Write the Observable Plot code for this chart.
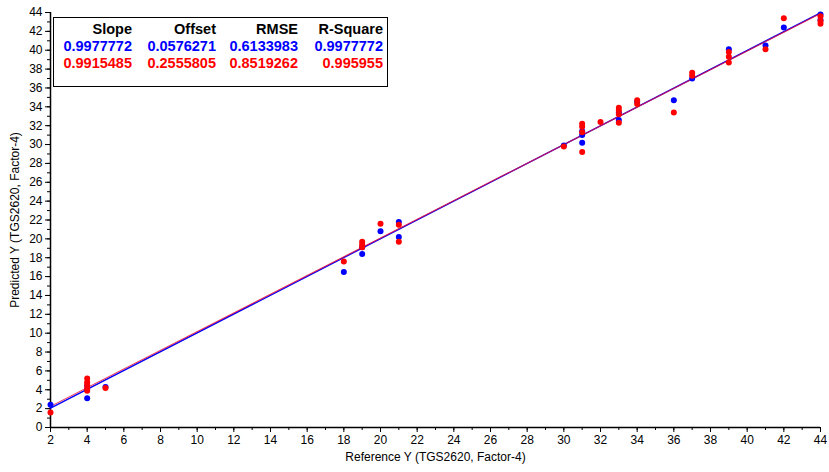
<!DOCTYPE html>
<html><head><meta charset="utf-8">
<script src="https://cdn.jsdelivr.net/npm/d3@7"></script>
<script src="https://cdn.jsdelivr.net/npm/@observablehq/plot@0.6"></script>
<style>
body{margin:0;background:#fff;font-family:"Liberation Sans",Arial,sans-serif;}
#wrap{position:relative;width:829px;height:472px;}
#legend{position:absolute;left:53px;top:17px;width:335px;height:70px;border:1px solid #000;background:#fff;font-weight:bold;font-size:14.5px;box-sizing:border-box;}
#legend span{position:absolute;white-space:nowrap;line-height:16px;}
</style>
</head><body>
<div id="wrap"><div id="legend"></div></div>
<script>
// Legend statistics
const statHeaders = ["Slope", "Offset", "RMSE", "R-Square"];
const blueStats = ["0.9977772", "0.0576271", "0.6133983", "0.9977772"];
const redStats  = ["0.9915485", "0.2555805", "0.8519262", "0.995955"];

// Fit lines (slope, offset)
const blueSlope = 0.9977772, blueOffset = 0.0576271;
const redSlope = 0.9915485, redOffset = 0.2555805;
const lineXEnds = [2, 44];

// Blue series points
const blueX = [2, 4, 4, 4, 5, 18, 19, 19, 20, 21, 21, 30, 31, 31, 31, 33, 33, 34, 36, 37, 39, 41, 42, 44, 44];
const blueY = [2.4, 3.1, 4.0, 4.4, 4.3, 16.5, 18.4, 19.1, 20.8, 21.8, 20.2, 29.9, 31.0, 30.2, 31.4, 32.6, 33.4, 34.5, 34.7, 37.0, 40.1, 40.5, 42.4, 43.8, 43.2];

// Red series points
const redX = [2, 4, 4, 4, 4, 4, 5, 18, 19, 19, 19, 20, 21, 21, 30, 31, 31, 31, 31, 32, 33, 33, 33, 33, 34, 34, 36, 37, 37, 39, 39, 39, 41, 42, 44, 44, 44];
const redY = [1.6, 5.2, 4.8, 4.5, 4.2, 3.9, 4.2, 17.6, 19.7, 19.4, 19.1, 21.6, 21.5, 19.7, 29.8, 32.2, 31.9, 31.3, 29.2, 32.4, 33.9, 33.6, 33.2, 32.3, 34.7, 34.3, 33.4, 37.6, 37.3, 39.8, 39.3, 38.7, 40.1, 43.4, 43.6, 43.1, 42.8];

const xMajor = d3.range(2, 45, 2);
const xMinor = d3.range(2, 45, 1);
const yMajor = d3.range(0, 45, 2);
const yMinor = d3.range(0, 45, 1);

const blue = blueX.map((x, i) => ({x, y: blueY[i]}));
const red = redX.map((x, i) => ({x, y: redY[i]}));
const blueLine = lineXEnds.map(x => ({x, y: blueSlope * x + blueOffset}));
const redLine = lineXEnds.map(x => ({x, y: redSlope * x + redOffset}));

const plot = Plot.plot({
  width: 829, height: 472,
  marginLeft: 50, marginRight: 9, marginTop: 12, marginBottom: 45,
  style: {fontFamily: "'Liberation Sans', Arial, sans-serif", fontSize: "12px", color: "#000", background: "#fff"},
  x: {domain: [2, 44]},
  y: {domain: [0, 44]},
  marks: [
    Plot.axisX(xMinor, {tickSize: 3, tickFormat: () => "", label: null}),
    Plot.axisX(xMajor, {tickSize: 5, tickPadding: 3, label: "Reference Y (TGS2620, Factor-4)", labelAnchor: "center", labelArrow: "none", labelOffset: 33, fontSize: 12}),
    Plot.axisY(yMinor, {tickSize: 3, tickFormat: () => "", label: null}),
    Plot.axisY(yMajor, {tickSize: 5, tickPadding: 3, label: "Predicted Y (TGS2620, Factor-4)", labelAnchor: "center", labelArrow: "none", labelOffset: 40, fontSize: 12}),
    Plot.ruleX([2], {stroke: "#000", strokeWidth: 1.5}),
    Plot.ruleY([0], {stroke: "#000", strokeWidth: 1.5}),
    Plot.line(blueLine, {x: "x", y: "y", stroke: "#0000ff", strokeWidth: 1.4}),
    Plot.line(redLine, {x: "x", y: "y", stroke: "#e8103a", strokeWidth: 1.1, strokeOpacity: 0.85}),
    Plot.dot(blue, {x: "x", y: "y", r: 3, fill: "#0000ff", stroke: null}),
    Plot.dot(red, {x: "x", y: "y", r: 3, fill: "#ff0000", stroke: null})
  ]
});
document.getElementById("wrap").prepend(plot);

// Legend table
const legend = document.getElementById("legend");
const colRight = [80, 164, 246, 331];
const rows = [[statHeaders, "#000", 3], [blueStats, "#0000ff", 20], [redStats, "#ff0000", 37]];
rows.forEach(([vals, color, top]) => {
  vals.forEach((v, i) => {
    const s = document.createElement("span");
    s.textContent = v;
    s.style.color = color;
    s.style.top = top + "px";
    s.style.right = (335 - colRight[i]) + "px";
    legend.appendChild(s);
  });
});
</script>
</body></html>
